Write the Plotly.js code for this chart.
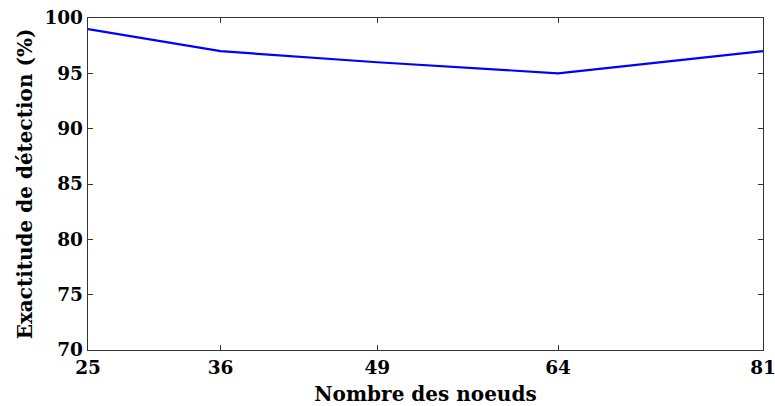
<!DOCTYPE html>
<html><head><meta charset="utf-8">
<script src="https://cdn.plot.ly/plotly-3.0.1.min.js"></script>
<style>html,body{margin:0;padding:0;background:#fff}#c{width:775px;height:406px}</style>
</head><body><div id="c"></div>
<script>
const nodes = [25, 36, 49, 64, 81];
const accuracy = [99, 97, 96, 95, 97];
const yTicks = [70, 75, 80, 85, 90, 95, 100];

const font = {family: 'DejaVu Serif, Liberation Serif, serif', color: '#000', weight: 'bold'};
Plotly.newPlot('c', [{
  x: nodes, y: accuracy, type: 'scatter', mode: 'lines',
  line: {color: '#0000ff', width: 2.2}
}], {
  width: 775, height: 406,
  margin: {l: 88, r: 12, t: 18, b: 56},
  paper_bgcolor: '#fff', plot_bgcolor: '#fff',
  showlegend: false,
  xaxis: {
    range: [25, 81], tickvals: nodes, ticktext: nodes.map(String),
    ticks: 'inside', ticklen: 5, tickcolor: '#333', mirror: 'ticks',
    showline: true, linecolor: '#333', linewidth: 1.3, showgrid: false, zeroline: false,
    ticklabeloverflow: 'allow',
    tickfont: Object.assign({size: 18.5}, font),
    title: {text: 'Nombre des noeuds', font: Object.assign({size: 20}, font), standoff: 11}
  },
  yaxis: {
    range: [70, 100], tickvals: yTicks,
    ticks: 'inside', ticklen: 5, tickcolor: '#333', mirror: 'ticks',
    showline: true, linecolor: '#333', linewidth: 1.3, showgrid: false, zeroline: false,
    ticklabeloverflow: 'allow',
    tickfont: Object.assign({size: 18.5}, font),
    title: {text: 'Exactitude de détection (%)', font: Object.assign({size: 20}, font), standoff: 6}
  }
}, {displayModeBar: false, staticPlot: true});
</script></body></html>
